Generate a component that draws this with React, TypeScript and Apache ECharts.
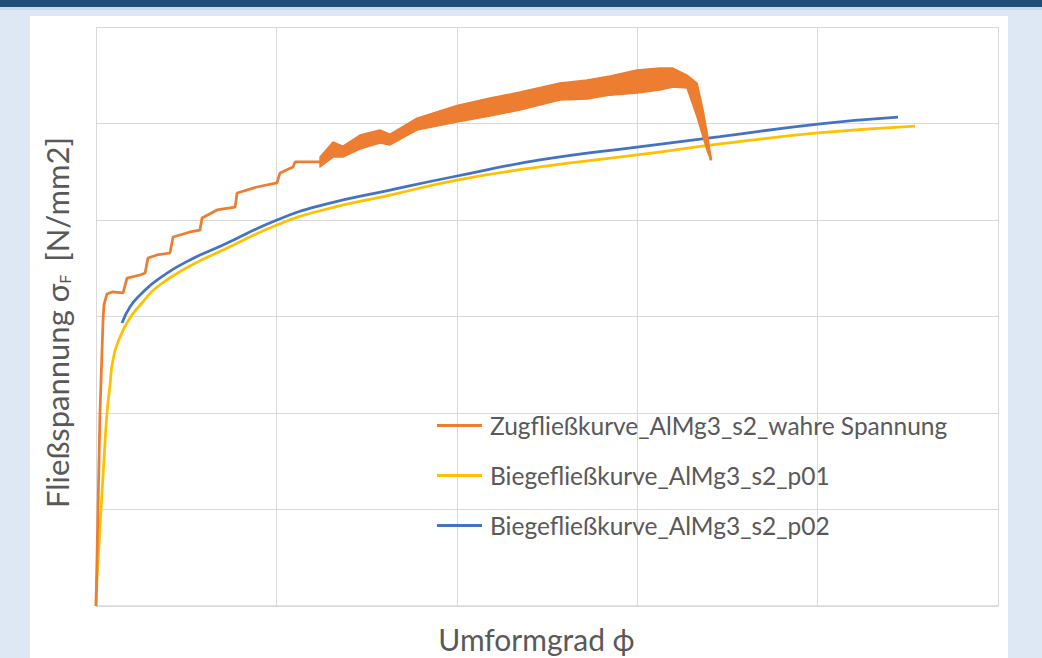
import { useEffect, useRef } from "react";
import * as echarts from "echarts";

// Zugfließkurve (thin part + centre of noisy band)
const zugX = [0, 0.0022, 0.0039, 0.0044, 0.0061, 0.0089, 0.015, 0.0172, 0.0244, 0.0272, 0.0288, 0.0338, 0.041, 0.0427, 0.0521, 0.0576, 0.0588, 0.0671, 0.0771, 0.0782, 0.0892, 0.1003, 0.102, 0.1092, 0.1103, 0.1258, 0.1314, 0.1369, 0.1463, 0.1574, 0.163, 0.1779, 0.2001, 0.2184, 0.235, 0.2572, 0.2722, 0.2849, 0.2999, 0.3126, 0.3198, 0.3276, 0.3332, 0.3365, 0.3392, 0.3409];
const zugY = [0, 100, 148.2, 156, 161.7, 162.7, 162.2, 169.9, 171.5, 172.5, 180.3, 181.9, 182.9, 191.2, 193.8, 194.8, 201, 205.2, 206.7, 214, 217.1, 219.2, 224.4, 227.5, 230.1, 230.1, 236.8, 234.7, 239.9, 243, 241.4, 249.7, 254.9, 258.5, 261.6, 266.3, 267.9, 269.4, 271.5, 273, 273.6, 271.5, 262.2, 250.2, 238.8, 231.1];

// Streuband der Zugfließkurve
const bandX = [0.1242, 0.1314, 0.1369, 0.1463, 0.1574, 0.163, 0.1779, 0.2001, 0.2184, 0.235, 0.2572, 0.2722, 0.2849, 0.2999, 0.3126, 0.3198, 0.3276, 0.3332, 0.3365, 0.3392, 0.3409];
const bandUpper = [232.6, 240.4, 238.3, 244.0, 246.6, 244.5, 252.8, 259.4, 263.2, 266.3, 271.0, 272.5, 274.6, 277.7, 278.7, 278.7, 275.1, 271.0, 257.0, 243.0, 231.1];
const bandLower = [227.5, 232.6, 232.6, 236.8, 239.9, 238.9, 246.6, 250.8, 253.9, 257.0, 262.2, 262.7, 264.7, 265.8, 267.3, 268.9, 268.4, 253.4, 243.0, 234.7, 231.1];

// Biegefließkurve p01
const p01X = [0, 0.00055, 0.00166, 0.00277, 0.00443, 0.0061, 0.00776, 0.00942, 0.0133, 0.0188, 0.0255, 0.0338, 0.0521, 0.0704, 0.1003, 0.1258, 0.163, 0.2001, 0.2461, 0.2999, 0.3459, 0.4002, 0.454];
const p01Y = [0, 13.5, 31.6, 49.7, 75.6, 100, 114.5, 127.5, 139.4, 149.2, 157, 165.3, 176.2, 184.4, 197.4, 205.2, 212.9, 220.7, 227.5, 233.7, 239.4, 245.1, 248.7];

// Biegefließkurve p02
const p02X = [0.0144, 0.0188, 0.0244, 0.0338, 0.0521, 0.0704, 0.1003, 0.1258, 0.163, 0.2001, 0.2461, 0.2999, 0.3459, 0.4002, 0.4446];
const p02Y = [146.6, 154.9, 161.1, 168.9, 179.3, 187, 200, 207.8, 215.5, 222.8, 231.1, 237.8, 243.2, 249.7, 253.3];

const names = [
  "Zugfließkurve_AlMg3_s2_wahre Spannung",
  "Biegefließkurve_AlMg3_s2_p01",
  "Biegefließkurve_AlMg3_s2_p02",
];
const colors = ["#ED7D31", "#FFC000", "#4472C4"];

const zip = (xs: number[], ys: number[]) => xs.map((x, i) => [x, ys[i]]);

const FONT = "Lato, 'Open Sans', sans-serif";
const TXT = "#595959";
const GRID = "#d9d9d9";

export default function App() {
  const ref = useRef<HTMLDivElement>(null);
  useEffect(() => {
    const chart = echarts.init(ref.current!, null, { renderer: "svg" });
    chart.setOption({
      animation: false,
      grid: { left: 96, right: 44, top: 27, bottom: 52, outerBoundsMode: "none", containLabel: false },
      xAxis: {
        type: "value",
        min: 0,
        max: 0.5,
        interval: 0.1,
        axisLabel: { show: false },
        axisTick: { show: false },
        axisLine: { show: true, lineStyle: { color: GRID, width: 1.5 } },
        splitLine: { show: true, lineStyle: { color: GRID, width: 1 } },
        name: "Umformgrad ϕ",
        nameLocation: "middle",
        nameGap: 18,
        nameTextStyle: { fontSize: 30, color: TXT, fontFamily: FONT, padding: [0, 21, 0, 0] },
      },
      yAxis: {
        type: "value",
        min: 0,
        max: 300,
        interval: 50,
        axisLabel: { show: false },
        axisTick: { show: false },
        axisLine: { show: false },
        splitLine: { show: true, lineStyle: { color: GRID, width: 1 } },
        name: "Fließspannung σ{sub|F} [N/mm2]",
        nameLocation: "middle",
        nameRotate: 90,
        nameGap: 24,
        nameTextStyle: {
          fontSize: 31,
          color: TXT,
          fontFamily: FONT,
          padding: [0, 12, 0, 0],
          rich: {
            sub: { fontSize: 16, color: TXT, fontFamily: FONT, verticalAlign: "bottom", padding: [13, 5, 0, 0] },
          },
        },
      },
      legend: {
        data: names,
        orient: "vertical",
        left: 437,
        top: 413,
        padding: 0,
        icon: "rect",
        itemWidth: 45,
        itemHeight: 3,
        itemGap: 25,
        textStyle: { fontSize: 24.5, color: TXT, fontFamily: FONT, padding: [0, 0, 0, 3] },
      },
      series: [
        {
          name: names[0],
          type: "line",
          data: zip(zugX, zugY),
          showSymbol: false,
          symbol: "none",
          lineStyle: { color: colors[0], width: 2.75 },
          itemStyle: { color: colors[0] },
          z: 3,
        },
        {
          name: "Streuband",
          type: "custom",
          silent: true,
          data: [[bandX[0], bandUpper[0]]],
          renderItem: (_p: any, api: any) => {
            const up = bandX.map((x, i) => api.coord([x, bandUpper[i]]));
            const lo = bandX.map((x, i) => api.coord([x, bandLower[i]])).reverse();
            return {
              type: "polygon",
              shape: { points: up.concat(lo) },
              style: { fill: colors[0], stroke: colors[0], lineWidth: 1.5, lineJoin: "round" },
            };
          },
          z: 3,
        },
        {
          name: names[1],
          type: "line",
          data: zip(p01X, p01Y),
          smooth: true,
          showSymbol: false,
          symbol: "none",
          lineStyle: { color: colors[1], width: 2.75 },
          itemStyle: { color: colors[1] },
          z: 2,
        },
        {
          name: names[2],
          type: "line",
          data: zip(p02X, p02Y),
          smooth: true,
          showSymbol: false,
          symbol: "none",
          lineStyle: { color: colors[2], width: 2.75 },
          itemStyle: { color: colors[2] },
          z: 2,
        },
      ],
    });
    return () => chart.dispose();
  }, []);
  return (
    <div style={{ position: "fixed", left: 0, top: 0, width: 1042, height: 658, background: "#dde8f4", overflow: "hidden" }}>
      <div style={{ position: "absolute", left: 0, top: 0, width: 1042, height: 7, background: "#1f4e79" }} />
      <div style={{ position: "absolute", left: 0, top: 7, width: 1042, height: 3, background: "#c9d9ea" }} />
      <div style={{ position: "absolute", left: 30, top: 16, width: 978, height: 642, background: "#ffffff" }} />
      <div ref={ref} style={{ position: "absolute", left: 0, top: 0, width: 1042, height: 658 }} />
    </div>
  );
}
